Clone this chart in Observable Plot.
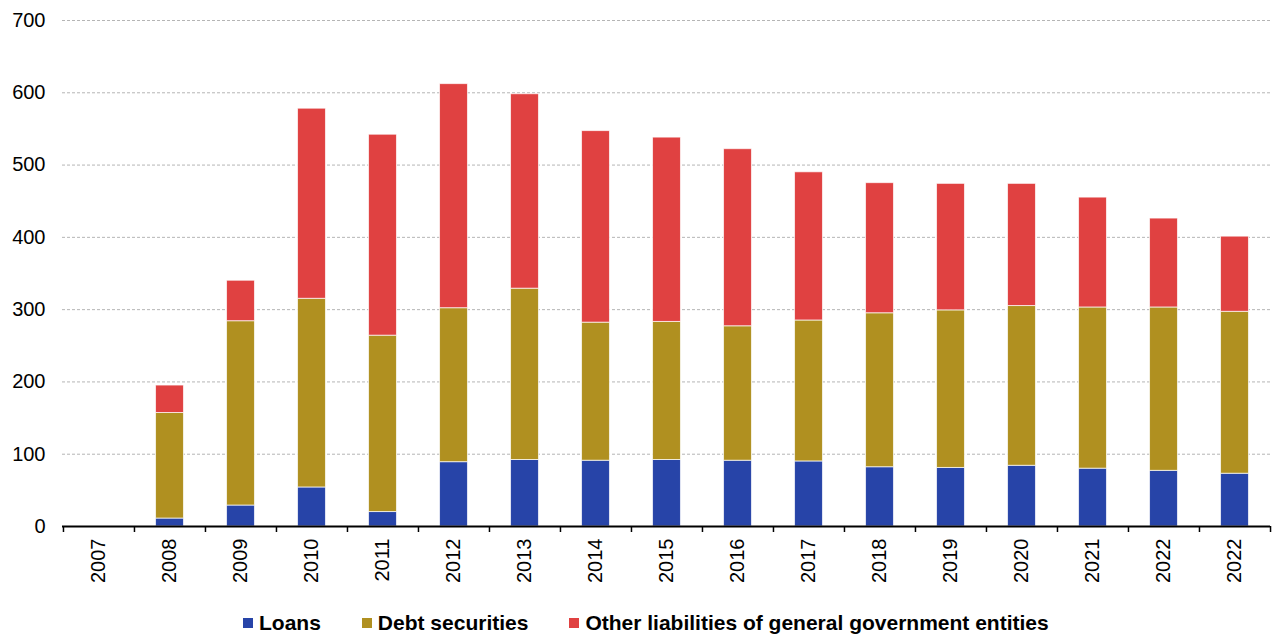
<!DOCTYPE html>
<html>
<head>
<meta charset="utf-8">
<script src="https://cdn.jsdelivr.net/npm/d3@7"></script>
<script src="https://cdn.jsdelivr.net/npm/@observablehq/plot@0.6"></script>
<style>
  body { margin: 0; background: #fff; font-family: "Liberation Sans", Arial, sans-serif; }
  #legend { display: flex; justify-content: flex-start; align-items: center; height: 46px; padding-left: 243px; font-weight: bold; font-size: 21px; color: #000; }
  .item { display: flex; align-items: center; margin-right: 41px; }
  .sw { width: 10px; height: 10px; margin-right: 6px; }
</style>
</head>
<body>
<div id="chart"></div>
<div id="legend"></div>
<script>
const years = ["2007","2008","2009","2010","2011","2012","2013","2014","2015","2016","2017","2018","2019","2020","2021","2022","2022"];
const loans = [0, 11, 29, 54, 20, 89, 92, 91, 92, 91, 90, 82, 81, 84, 80, 77, 73];
const debtSecurities = [0, 146, 255, 261, 244, 213, 237, 191, 191, 186, 195, 213, 218, 221, 223, 226, 224];
const otherLiabilities = [0, 38, 56, 263, 278, 310, 269, 265, 255, 245, 205, 180, 175, 169, 152, 123, 104];
const seriesNames = ["Loans", "Debt securities", "Other liabilities of general government entities"];
const seriesColors = ["#2744a8", "#b09020", "#e04141"];
const yTicks = [0, 100, 200, 300, 400, 500, 600, 700];

const W = 1272, H = 600, mL = 62, mR = 2, mT = 20, mB = 74;
const step = (W - mL - mR) / years.length;
const idx = d3.range(years.length);

const data = [];
const seriesValues = [loans, debtSecurities, otherLiabilities];
seriesNames.forEach((s, k) => idx.forEach(i => data.push({i, series: s, value: seriesValues[k][i]})));

const chart = Plot.plot({
  width: W, height: H,
  marginLeft: mL, marginRight: mR, marginTop: mT, marginBottom: mB,
  style: {fontFamily: '"Liberation Sans", Arial, sans-serif', fontSize: "20px", color: "#000"},
  x: {type: "band", domain: idx, padding: 0},
  y: {domain: [0, 700]},
  color: {domain: seriesNames, range: seriesColors},
  marks: [
    Plot.gridY(yTicks.filter(d => d > 0), {stroke: "#b5b5b5", strokeOpacity: 1, strokeDasharray: "3,2", strokeWidth: 1}),
    Plot.barY(data, {x: "i", y: "value", fill: "series", order: seriesNames, insetLeft: step/2 - 14, insetRight: step/2 - 14, stroke: "#fff", strokeOpacity: 0.7, strokeWidth: 1}),
    Plot.axisY({ticks: yTicks, tickSize: 0, tickPadding: 17, fontSize: 20, label: null}),
    Plot.ruleY([0], {stroke: "#000", strokeWidth: 2}),
    Plot.axisX({tickSize: 6, tickFormat: () => "", dx: -step/2, label: null, stroke: "#000", strokeWidth: 1.5}),
    Plot.axisX({ticks: [idx[idx.length-1]], tickSize: 6, tickFormat: () => "", dx: step/2, label: null, stroke: "#000", strokeWidth: 1.5}),
    Plot.axisX({tickSize: 0, tickPadding: 12, tickRotate: -90, tickFormat: i => years[i], fontSize: 20, label: null})
  ]
});
document.getElementById("chart").appendChild(chart);

const leg = document.getElementById("legend");
seriesNames.forEach((s, k) => {
  const it = document.createElement("div");
  it.className = "item";
  const sw = document.createElement("span");
  sw.className = "sw"; sw.style.background = seriesColors[k];
  const tx = document.createElement("span");
  tx.textContent = s;
  it.appendChild(sw); it.appendChild(tx);
  leg.appendChild(it);
});
</script>
</body>
</html>
